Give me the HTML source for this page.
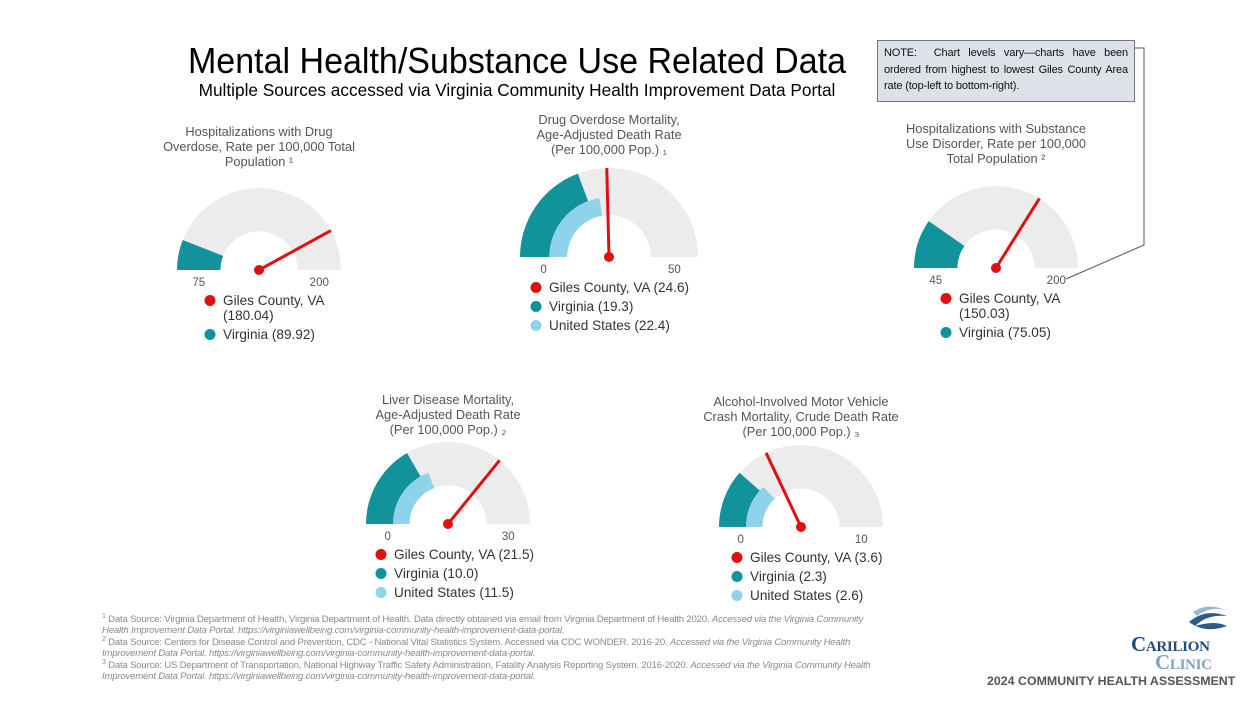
<!DOCTYPE html>
<html><head><meta charset="utf-8"><style>
body{margin:0;background:#fff;width:1247px;height:702px;overflow:hidden;font-family:"Liberation Sans",sans-serif;position:relative}
.abs{position:absolute}
#title{left:0;width:1034px;top:40px;text-align:center;font-size:36px;color:#000;transform:scaleX(0.945);transform-origin:517px 0;white-space:nowrap}
#sub{left:0;width:1034px;top:80px;text-align:center;font-size:17.5px;color:#000;transform:scaleX(0.985)}
#note{left:877px;top:40px;width:244px;height:52px;padding:4px 6px;background:#dde2e9;border:1.5px solid #777;font-size:11px;line-height:16.5px;color:#111;text-align:justify;letter-spacing:-0.15px}
#foot{left:102px;top:614px;width:770px;font-size:9.6px;line-height:11.4px;color:#8a8a8a;letter-spacing:-0.2px}
#foot sup{line-height:0;font-size:7px}
#logo1{left:1131px;top:632px;font-family:"Liberation Serif",serif;font-weight:bold;font-size:21px;color:#1d4e7a;font-variant:small-caps;letter-spacing:-0.3px}
#logo2{left:1155px;top:650px;font-family:"Liberation Serif",serif;font-weight:bold;font-size:21px;color:#7ea1c4;font-variant:small-caps;letter-spacing:-0.3px}
#logo3{left:987px;top:674px;font-size:12.4px;font-weight:bold;color:#555}
</style></head><body>
<div id="title" class="abs">Mental Health/Substance Use Related Data</div>
<div id="sub" class="abs">Multiple Sources accessed via Virginia Community Health Improvement Data Portal</div>
<div id="note" class="abs">NOTE:&nbsp; Chart levels vary—charts have been ordered from highest to lowest Giles County Area rate (top-left to bottom-right).</div>
<svg class="abs" style="left:0;top:0" width="1247" height="702" id="svg">
<polyline points="1135,48 1144,48 1144,245 1066,279" fill="none" stroke="#555" stroke-width="1"/>
</svg>
<div id="foot" class="abs">
<sup>1</sup> Data Source: Virginia Department of Health, Virginia Department of Health. Data directly obtained via email from Virginia Department of Health 2020. <i>Accessed via the Virginia Community Health Improvement Data Portal. https://virginiawellbeing.com/virginia-community-health-improvement-data-portal.</i><br>
<sup>2</sup> Data Source: Centers for Disease Control and Prevention, CDC - National Vital Statistics System. Accessed via CDC WONDER. 2016-20. <i>Accessed via the Virginia Community Health Improvement Data Portal. https://virginiawellbeing.com/virginia-community-health-improvement-data-portal.</i><br>
<sup>3</sup> Data Source: US Department of Transportation, National Highway Traffic Safety Administration, Fatality Analysis Reporting System. 2016-2020. <i>Accessed via the Virginia Community Health Improvement Data Portal. https://virginiawellbeing.com/virginia-community-health-improvement-data-portal.</i></div>
<svg class="abs" style="left:1185px;top:604px" width="45" height="30">
<path d="M8,8 Q22,-2 40,6 Q24,2 12,12Z" fill="#9bb6d3"/><path d="M4,18 Q20,4 42,12 Q22,10 10,22 Q30,16 42,22 Q20,30 4,18Z" fill="#2a5b8c"/></svg>
<div id="logo1" class="abs">Carilion</div>
<div id="logo2" class="abs">Clinic</div>
<div id="logo3" class="abs">2024 COMMUNITY HEALTH ASSESSMENT</div>
<script>
const gaugeNames=["drug-overdose-hosp","drug-overdose-mortality","substance-use-hosp","liver-disease-mortality","alcohol-crash-mortality"];
const gaugeTitles=[["Hospitalizations with Drug","Overdose, Rate per 100,000 Total","Population ¹"],["Drug Overdose Mortality,","Age-Adjusted Death Rate","(Per 100,000 Pop.) ₁"],["Hospitalizations with Substance","Use Disorder, Rate per 100,000","Total Population ²"],["Liver Disease Mortality,","Age-Adjusted Death Rate","(Per 100,000 Pop.) ₂"],["Alcohol-Involved Motor Vehicle","Crash Mortality, Crude Death Rate","(Per 100,000 Pop.) ₃"]];
const gaugeMin=[75,0,45,0,0];
const gaugeMax=[200,50,200,30,10];
const gilesValues=[180.04,24.6,150.03,21.5,3.6];
const gilesLabels=["Giles County, VA (180.04)","Giles County, VA (24.6)","Giles County, VA (150.03)","Giles County, VA (21.5)","Giles County, VA (3.6)"];
const virginiaValues=[89.92,19.3,75.05,10.0,2.3];
const virginiaLabels=["Virginia (89.92)","Virginia (19.3)","Virginia (75.05)","Virginia (10.0)","Virginia (2.3)"];
const usValues=[null,22.4,null,11.5,2.6];
const usLabels=[null,"United States (22.4)",null,"United States (11.5)","United States (2.6)"];
// layout
const cx=[259,609,996,448,801], cy=[270,257,268,524,527], R=[82,89,82,82,82];
const titleY=[136,124,133,404,406], legX=[210,536,946,381,737];
const NS="http://www.w3.org/2000/svg", svg=document.getElementById('svg');
function mk(t,a){const e=document.createElementNS(NS,t);for(const k in a)e.setAttribute(k,a[k]);svg.appendChild(e);return e;}
function ang(i,v){const f=Math.max(0,Math.min(1,(v-gaugeMin[i])/(gaugeMax[i]-gaugeMin[i])));return Math.PI*(1-f);}
function band(i,v,r0,r1,fill){const a=ang(i,v),x=cx[i],y=cy[i];
 const d=`M${x-r1},${y} A${r1},${r1} 0 0 1 ${x+r1*Math.cos(a)},${y-r1*Math.sin(a)} L${x+r0*Math.cos(a)},${y-r0*Math.sin(a)} A${r0},${r0} 0 0 0 ${x-r0},${y} Z`;
 return mk('path',{d,fill});}
for(let i=0;i<5;i++){
 const r=R[i], x=cx[i], y=cy[i], hasUS=usValues[i]!==null;
 gaugeTitles[i].forEach((t,k)=>{const e=mk('text',{x,y:titleY[i]+k*15,'text-anchor':'middle','font-size':12.8,fill:'#555','font-family':'Liberation Sans, sans-serif'});e.textContent=t;
  
  });
 const ri=r*0.47;
 const bg=band(i,gaugeMax[i],ri,r,'#ececec');
 
 
 const vaIn=hasUS?r*0.67:ri;
 const va=band(i,virginiaValues[i],vaIn,r,'#12939c');
 
 
 if(hasUS){const us=band(i,usValues[i],ri,vaIn,'#8fd3ea');
  
  }
 const a=ang(i,gilesValues[i]);
 const nd=mk('line',{x1:x,y1:y,x2:x+r*Math.cos(a),y2:y-r*Math.sin(a),stroke:'#e01010','stroke-width':3});
 
 
 const dot=mk('circle',{cx:x,cy:y,r:5,fill:'#e01010'});
 
 
 const rm=(r+ri)/2;
 [[gaugeMin[i],x-rm],[gaugeMax[i],x+rm]].forEach(([v,lx],k)=>{const e=mk('text',{x:lx,y:y+16,'text-anchor':'middle','font-size':11.5,fill:'#555','font-family':'Liberation Sans, sans-serif'});e.textContent=v;
  
  });
 let ly=y+35;
 const items=[];
 if(i===0||i===2){items.push(['#e01010',["Giles County, VA","("+gilesValues[i].toFixed(2)+")"],'giles']);}
 else items.push(['#e01010',[gilesLabels[i]],'giles']);
 items.push(['#12939c',[virginiaLabels[i]],'virginia']);
 if(hasUS)items.push(['#8fd3ea',[usLabels[i]],'us']);
 items.forEach(([c,lines,nm])=>{
  const d=mk('circle',{cx:legX[i],cy:ly-4.5,r:5.5,fill:c});
  
  
  lines.forEach((t,k)=>{const e=mk('text',{x:legX[i]+13,y:ly+k*15,'font-size':13.6,fill:'#333','font-family':'Liberation Sans, sans-serif'});e.textContent=t;
   
   });
  ly+=lines.length*15+4;
 });
}
</script>
</body></html>
